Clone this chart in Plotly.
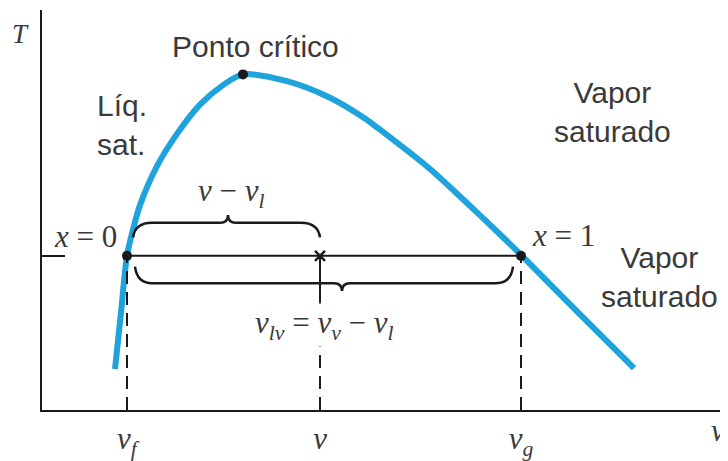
import plotly.graph_objects as go

# saturation dome (v and T in arbitrary units)
v_liq = [0.73, 0.79, 0.85, 0.91, 0.98, 1.15, 1.35, 1.58, 1.81, 2.01]
T_liq = [0.42, 1.00, 1.58, 1.85, 2.10, 2.50, 2.83, 3.13, 3.33, 3.44]
v_vap = [2.01, 2.45, 2.88, 3.21, 3.55, 3.88, 4.21, 4.55, 4.80, 5.36, 5.92]
T_vap = [3.44, 3.37, 3.20, 3.00, 2.74, 2.47, 2.16, 1.83, 1.58, 1.00, 0.43]

v_crit, T_crit = 2.01, 3.44
T_sat = 1.58
v_f, v_mix, v_g = 0.85, 2.78, 4.79
tick_vals = [v_f, v_mix, v_g]
tick_text = ["<i>v</i><sub><i>f</i></sub>", "<i>v</i>", "<i>v</i><sub><i>g</i></sub>"]

BLUE = "#1ea3dc"
INK = "#1a1a1a"
TXT = "#3a3a3a"
SANS = "Liberation Sans, Arial, sans-serif"
SERIF = "Liberation Serif, Times New Roman, serif"


def brace_path(x0, x1, xm, y_level, y_end, y_tip, r, w):
    return (
        f"M {x0},{y_end} Q {x0 + 0.02},{y_level} {x0 + r},{y_level} "
        f"L {xm - w},{y_level} Q {xm},{y_level} {xm},{y_tip} "
        f"Q {xm},{y_level} {xm + w},{y_level} "
        f"L {x1 - r},{y_level} Q {x1 - 0.02},{y_level} {x1},{y_end}"
    )


fig = go.Figure()

fig.add_trace(go.Scatter(
    x=v_liq + v_vap[1:], y=T_liq + T_vap[1:], mode="lines",
    line=dict(color=BLUE, width=6, shape="spline", smoothing=0.8), hoverinfo="skip",
))

# dashed drops to the axis
for xv in [v_f, v_mix, v_g]:
    top = T_sat if xv != v_mix else T_sat - 0.48
    fig.add_trace(go.Scatter(
        x=[xv, xv], y=[0, top], mode="lines",
        line=dict(color=INK, width=2, dash="13px,8px"), hoverinfo="skip",
    ))
fig.add_trace(go.Scatter(
    x=[v_mix, v_mix], y=[T_sat, T_sat - 0.48], mode="lines",
    line=dict(color=INK, width=2), hoverinfo="skip",
))

# tie line
fig.add_trace(go.Scatter(
    x=[v_f, v_g], y=[T_sat, T_sat], mode="lines",
    line=dict(color=INK, width=2), hoverinfo="skip",
))

fig.add_trace(go.Scatter(
    x=[v_f, v_g, v_crit], y=[T_sat, T_sat, T_crit], mode="markers",
    marker=dict(color=INK, size=10), hoverinfo="skip",
))
fig.add_trace(go.Scatter(
    x=[v_mix], y=[T_sat], mode="markers",
    marker=dict(symbol="x-thin", size=10, line=dict(color=INK, width=2.5)),
    hoverinfo="skip",
))

fig.add_shape(type="path", xref="x", yref="y",
              path=brace_path(v_f + 0.06, v_mix, 1.86, T_sat + 0.34, T_sat + 0.19, T_sat + 0.42, 0.19, 0.08),
              line=dict(color=INK, width=2.5))
fig.add_shape(type="path", xref="x", yref="y",
              path=brace_path(v_f + 0.08, v_g - 0.08, 3.00, T_sat - 0.28, T_sat - 0.11, T_sat - 0.36, 0.17, 0.08),
              line=dict(color=INK, width=2.5))

sans = dict(family=SANS, size=30, color=TXT)
serif = dict(family=SERIF, size=31, color=TXT)
notes = [
    dict(x=2.13, y=3.73, text="Ponto crítico", font=sans),
    dict(x=0.53, y=2.92, text="Líq.<br>sat.", xanchor="left", align="left", font=sans),
    dict(x=5.70, y=3.05, text="Vapor<br>saturado", font=sans),
    dict(x=6.17, y=1.36, text="Vapor<br>saturado", font=sans),
    dict(x=0.43, y=1.78, text="<i>x</i> = 0", font=serif),
    dict(x=5.21, y=1.79, text="<i>x</i> = 1", font=serif),
    dict(x=1.89, y=2.22, text="<i>v</i> − <i>v</i><sub><i>l</i></sub>", font=serif),
    dict(x=2.82, y=0.87, text="<i>v</i><sub><i>lv</i></sub> = <i>v</i><sub><i>v</i></sub> − <i>v</i><sub><i>l</i></sub>",
         bgcolor="white", font=serif),
]
for n in notes:
    fig.add_annotation(showarrow=False, xref="x", yref="y", **n)

# axis names sit outside the plot area, so place them on the paper
fig.add_annotation(x=-0.031, y=0.941, xref="paper", yref="paper", showarrow=False,
                   xanchor="center", yanchor="middle",
                   text="<i>T</i>", font=dict(family=SERIF, size=27, color=TXT))
fig.add_annotation(x=0.999, y=-0.05, xref="paper", yref="paper", showarrow=False,
                   xanchor="right", yanchor="middle",
                   text="<i>v</i>", font=serif)

# page body keeps an 8px margin, so the figure is trimmed by that much
fig.update_layout(
    width=720, height=453,
    margin=dict(l=34, r=0, t=2, b=41),
    plot_bgcolor="white", paper_bgcolor="white",
    showlegend=False,
    xaxis=dict(range=[0, 6.86], showgrid=False, zeroline=False,
               showline=True, linecolor=INK, linewidth=2,
               tickvals=tick_vals, ticktext=tick_text, ticks="",
               tickfont=serif),
    yaxis=dict(range=[0, 4.10], showgrid=False, zeroline=False,
               showline=True, linecolor=INK, linewidth=2,
               tickvals=[T_sat], ticktext=[""], ticks="inside",
               ticklen=23, tickwidth=2, tickcolor=INK),
)

fig.write_html("out.html")
